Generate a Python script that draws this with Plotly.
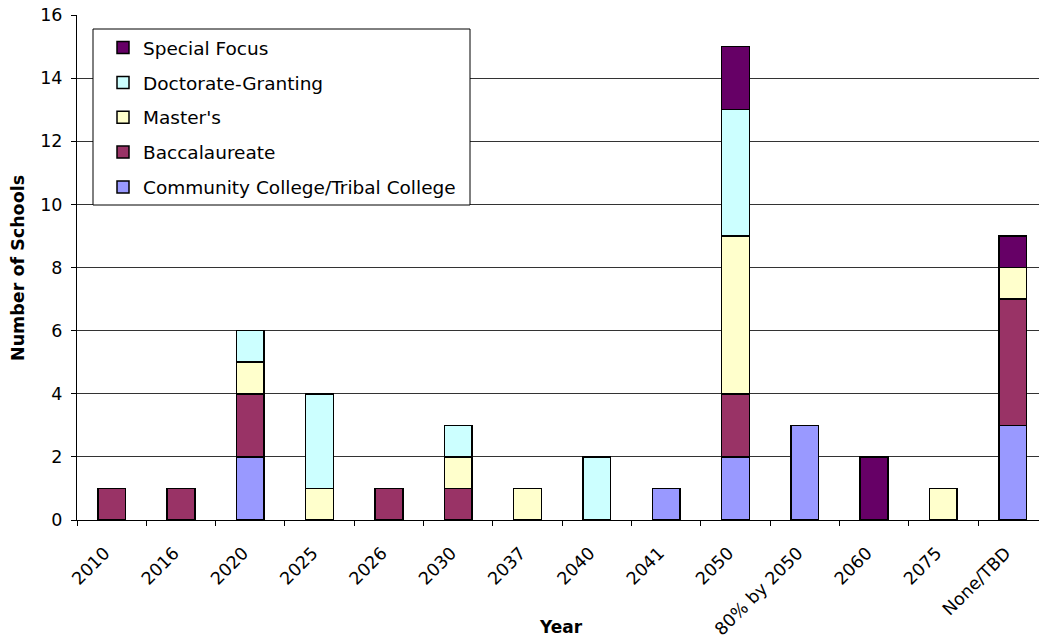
import plotly.graph_objects as go

categories = ["2010", "2016", "2020", "2025", "2026", "2030", "2037", "2040",
              "2041", "2050", "80% by 2050", "2060", "2075", "None/TBD"]
community = [0, 0, 2, 0, 0, 0, 0, 0, 1, 2, 3, 0, 0, 3]
baccalaureate = [1, 1, 2, 0, 1, 1, 0, 0, 0, 2, 0, 0, 0, 4]
masters = [0, 0, 1, 1, 0, 1, 1, 0, 0, 5, 0, 0, 1, 1]
doctorate = [0, 0, 1, 3, 0, 1, 0, 2, 0, 4, 0, 0, 0, 0]
special = [0, 0, 0, 0, 0, 0, 0, 0, 0, 2, 0, 2, 0, 1]

series = [
    ("Community College/Tribal College", community, "#9999FF"),
    ("Baccalaureate", baccalaureate, "#993366"),
    ("Master's", masters, "#FFFFCC"),
    ("Doctorate-Granting", doctorate, "#CCFFFF"),
    ("Special Focus", special, "#660066"),
]

FONT = "DejaVu Sans, Arial, sans-serif"

# plot geometry (pixels)
W, H = 1039, 638
L, R, T, B = 77, 0, 15, 118
PW, PH = W - L - R, H - T - B


def px_x(x):
    return (x - L) / PW


def px_y(y):
    return 1 - (y - T) / PH


fig = go.Figure()
for i, (name, vals, color) in enumerate(series):
    fig.add_trace(go.Bar(
        x=categories,
        y=[v if v else None for v in vals],
        name=name,
        legendgroup=f"g{i}",
        legendrank=len(series) - i,
        marker=dict(color=color, line=dict(color="#000000", width=1.5)),
        width=0.4,
    ))

fig.update_layout(
    barmode="stack",
    width=W, height=H,
    margin=dict(l=L, r=R, t=T, b=B),
    paper_bgcolor="white", plot_bgcolor="white",
    font=dict(family=FONT, size=17.5, color="black"),
    showlegend=True,
    legend=dict(
        x=px_x(103), y=px_y(29), xanchor="left", yanchor="top",
        traceorder="grouped", tracegroupgap=7.8,
        borderwidth=0, bgcolor="rgba(0,0,0,0)",
        font=dict(family=FONT, size=18.5),
    ),
    xaxis=dict(
        type="category",
        range=[-0.5, 13.38],
        showline=True, linecolor="black", linewidth=1,
        ticks="outside", ticklen=5, tickcolor="black",
        tickson="boundaries",
        tickangle=-45,
        ticklabelstandoff=15,
        ticklabelshift=-7,
        tickfont=dict(family=FONT, size=17.5),
        showgrid=False,
    ),
    yaxis=dict(
        range=[0, 16], dtick=2,
        showline=True, linecolor="black", linewidth=1,
        ticks="outside", ticklen=5, tickcolor="black",
        ticklabelstandoff=5,
        showgrid=True, gridcolor="#333333", gridwidth=1,
        tickfont=dict(family=FONT, size=17.5),
        zeroline=False,
    ),
    shapes=[
        dict(type="rect", xref="paper", yref="paper",
             x0=px_x(93), x1=px_x(470), y0=px_y(205), y1=px_y(29),
             fillcolor="white", line=dict(color="black", width=1), layer="above"),
    ],
    annotations=[
        dict(text="<b>Year</b>", x=px_x(561), xref="paper", y=px_y(627), yref="paper",
             showarrow=False, font=dict(family=FONT, size=17),
             xanchor="center", yanchor="middle"),
        dict(text="<b>Number of Schools</b>", x=px_x(18), xref="paper", y=px_y(268), yref="paper",
             showarrow=False, textangle=-90, font=dict(family=FONT, size=17.5),
             xanchor="center", yanchor="middle"),
    ],
)

fig.write_html("out.html")
